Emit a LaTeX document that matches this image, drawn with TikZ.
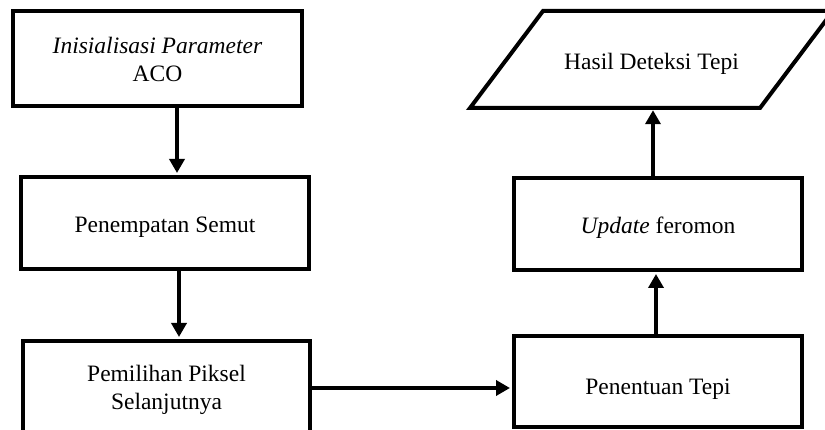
\documentclass[tikz,border=0pt]{standalone}
\usepackage{fontspec}
\setmainfont{Liberation Serif}
\usetikzlibrary{arrows.meta}
\newcommand\mytxt[2][4pt]{\raisebox{-#1}[\height][\depth]{\begin{tabular}{@{}c@{}}#2\end{tabular}}}
\begin{document}
\begin{tikzpicture}[x=1pt,y=-1pt,
  box/.style={draw, line width=4pt, inner sep=0pt,
    font=\fontsize{23.5}{28}\selectfont},
  lbl/.style={inner sep=0pt, font=\fontsize{23.5}{28}\selectfont},
  arr/.style={line width=4pt, -{Triangle[length=14pt,width=15pt]}, shorten >=2pt}]
\useasboundingbox (0,0) rectangle (825,430);
\clip (0,0) rectangle (825,430);
\node[box, minimum width=289pt, minimum height=95pt] (init) at (157.5,58.5)
  {\mytxt[3pt]{\textit{Inisialisasi Parameter}\\ACO}};
\node[box, minimum width=288pt, minimum height=92pt] (semut) at (165,223)
  {\mytxt[4pt]{Penempatan Semut}};
\node[box, minimum width=287pt, minimum height=94pt] (pilih) at (166.5,388)
  {\mytxt[2pt]{Pemilihan Piksel\\Selanjutnya}};
\node[box, minimum width=288pt, minimum height=91pt] (tepi) at (658,381.5)
  {\mytxt[7pt]{Penentuan Tepi}};
\node[box, minimum width=288pt, minimum height=92pt] (upd) at (658,224)
  {\mytxt[4pt]{\textit{Update} feromon}};
\coordinate (p1) at (470,108);
\coordinate (p2) at (760,108);
\coordinate (p3) at (833,11);
\coordinate (p4) at (543,11);
\draw[line width=4pt, line join=miter] (p1) -- (p2) -- (p3) -- (p4) -- cycle;
\node[lbl, minimum height=97pt] (hasil) at (651.5,59.5) {\mytxt[4pt]{Hasil Deteksi Tepi}};
\draw[arr] (init.south -| 177,0) -- (semut.north -| 177,0);
\draw[arr] (semut.south -| 179,0) -- (pilih.north -| 179,0);
\draw[arr] (pilih.east |- 0,388) -- (tepi.west |- 0,388);
\draw[arr] (tepi.north -| 656,0) -- (upd.south -| 656,0);
\draw[arr] (upd.north -| 653,0) -- (hasil.south -| 653,0);
\end{tikzpicture}
\end{document}
